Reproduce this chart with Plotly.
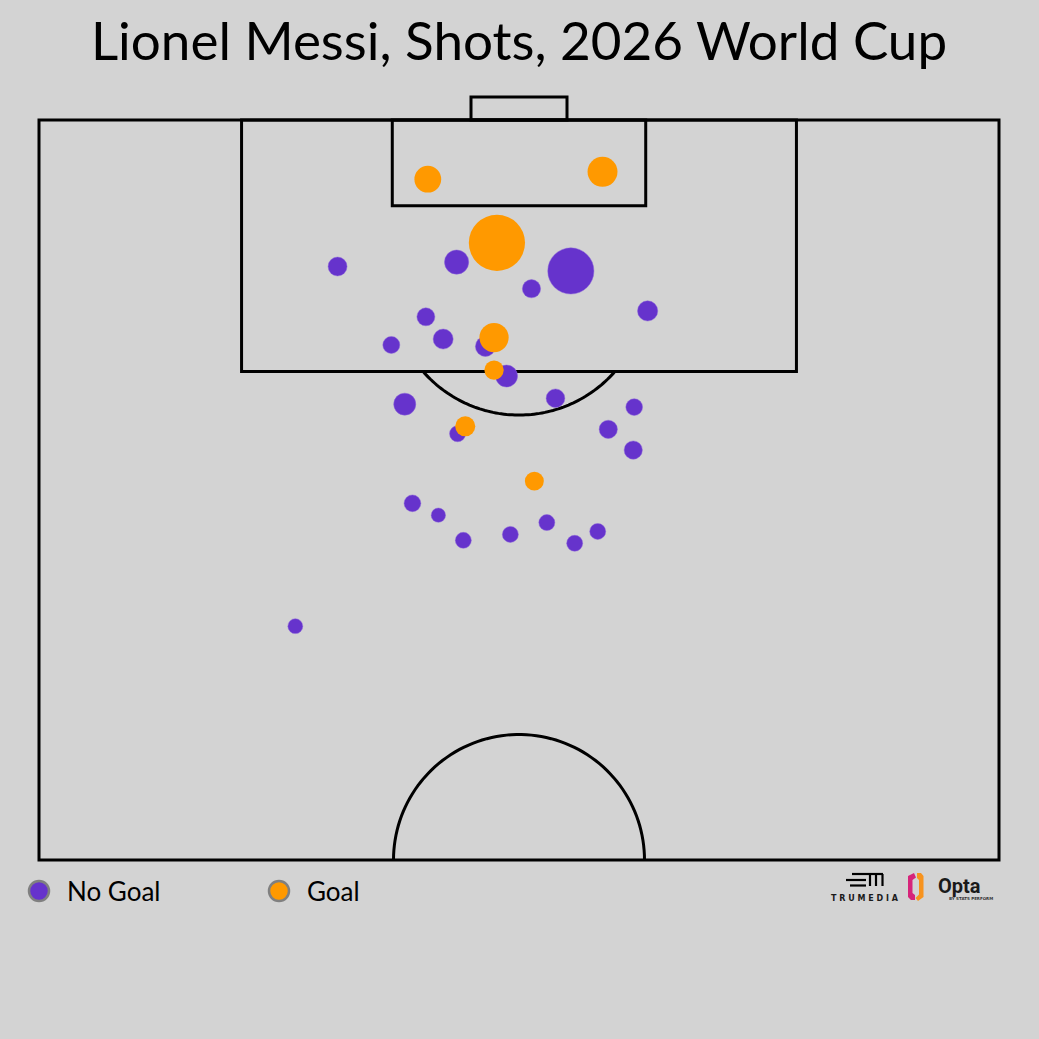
import numpy as np
import plotly.graph_objects as go

# ---------------- data (Opta-style pitch coords: x across 0-100, y toward goal 50-100) -------------
nogoal_x = [31.1, 43.5, 55.4, 51.3, 40.3, 63.4, 36.7, 42.1, 46.5, 48.7, 38.1, 53.8,
            62.0, 43.6, 59.3, 61.9, 38.9, 41.6, 44.2, 49.1, 52.9, 55.8, 58.2, 26.7]
nogoal_y = [90.1, 90.4, 89.8, 88.6, 86.7, 87.1, 84.8, 85.2, 84.7, 82.7, 80.8, 81.2,
            80.6, 78.8, 79.1, 77.7, 74.1, 73.3, 71.6, 72.0, 72.8, 71.4, 72.2, 65.8]
nogoal_xg = [0.042, 0.069, 0.25, 0.039, 0.038, 0.048, 0.034, 0.047, 0.047, 0.057, 0.057, 0.041,
             0.033, 0.030, 0.039, 0.039, 0.033, 0.024, 0.030, 0.030, 0.030, 0.030, 0.030, 0.026]

goal_x = [40.5, 58.7, 47.7, 47.4, 47.4, 44.4, 51.6]
goal_y = [96.0, 96.5, 91.7, 85.3, 83.1, 79.3, 75.6]
goal_xg = [0.084, 0.105, 0.37, 0.100, 0.044, 0.047, 0.042]

legend_labels = ["No Goal", "Goal"]
title_text = "Lionel Messi, Shots, 2026 World Cup"

# ---------------- styling / geometry ----------------
BG = "#D3D3D3"
PURPLE = "#6633CC"
ORANGE = "#FF9900"
W = H = 1039
ML, MR, MT, MB = 29, 30, 76, 165
PXX = 9.6    # px per x unit
PXY = 14.8   # px per y unit
X0PX, Y100PX = 39, 120
x_range = [(ML - X0PX) / PXX, (W - MR - X0PX) / PXX]
y_range = [100 - ((H - MB) - Y100PX) / PXY, 100 - (MT - Y100PX) / PXY]
SIZEREF = 2 * 0.03 / 16 ** 2

fig = go.Figure()
fig.add_trace(go.Scatter(x=nogoal_x, y=nogoal_y, mode="markers", name=legend_labels[0],
                         marker=dict(color=PURPLE, size=nogoal_xg, sizemode="area", sizeref=SIZEREF,
                                     opacity=1, line=dict(width=0.6, color="rgba(140,100,220,0.8)")),
                         showlegend=False, hoverinfo="skip"))
fig.add_trace(go.Scatter(x=goal_x, y=goal_y, mode="markers", name=legend_labels[1],
                         marker=dict(color=ORANGE, size=goal_xg, sizemode="area", sizeref=SIZEREF,
                                     opacity=1, line=dict(width=0)),
                         showlegend=False, hoverinfo="skip"))

LINE = dict(color="black", width=3)
shapes = []
def rect(x0, y0, x1, y1):
    shapes.append(dict(type="rect", x0=x0, y0=y0, x1=x1, y1=y1, xref="x", yref="y",
                       line=LINE, layer="below"))

rect(0, 50, 100, 100)
rect(21.1, 83, 78.9, 100)
rect(36.8, 94.2, 63.2, 100)
rect(45.0, 100, 55.0, 101.55)

def arc_path(cx, cy, r_px, t0, t1, n=80):
    t = np.linspace(t0, t1, n)
    xs = cx + r_px / PXX * np.cos(t)
    ys = cy + r_px / PXY * np.sin(t)
    return "M " + " L ".join(f"{a:.4f},{b:.4f}" for a, b in zip(xs, ys))

# penalty arc (outside box)
pc_y, pr = 88.68, 127.5
s = np.arcsin((83 - pc_y) / (pr / PXY))
shapes.append(dict(type="path", path=arc_path(50, pc_y, pr, np.pi - s, 2 * np.pi + s),
                   xref="x", yref="y", line=LINE, layer="below"))
# centre circle half
shapes.append(dict(type="path", path=arc_path(50, 50, 125.5, 0, np.pi),
                   xref="x", yref="y", line=LINE, layer="below"))

# ---------------- legend & logos in pixel space ----------------
def P(px, py):
    return ((px - ML) / (W - ML - MR), ((H - MB) - py) / (H - MT - MB))

annotations = []
for (cx, tx), col, lab in zip([(39, 65), (279, 305)], [PURPLE, ORANGE], legend_labels):
    ax, ay = P(cx, 891)
    shapes.append(dict(type="circle", xref="paper", yref="paper", xsizemode="pixel", ysizemode="pixel",
                       xanchor=ax, yanchor=ay, x0=-10, x1=10, y0=-10, y1=10,
                       fillcolor=col, line=dict(color="#808080", width=2.5)))
    tx_, ty_ = P(tx, 891)
    annotations.append(dict(text=lab, x=tx_, y=ty_, xref="paper", yref="paper", xanchor="left",
                            yanchor="middle", showarrow=False,
                            font=dict(family="Lato", size=26, color="black")))

def pline(x0, y0, x1, y1, w=2.2, col="black"):
    a, b = P(x0, y0)
    c, d = P(x1, y1)
    shapes.append(dict(type="line", xref="paper", yref="paper", x0=a, y0=b, x1=c, y1=d,
                       line=dict(color=col, width=w)))

# TruMedia icon
pline(852, 874, 883, 874)
pline(846, 880, 866, 880)
pline(850, 885.5, 866, 885.5)
pline(870, 874, 870, 886)
pline(876, 874, 876, 886)
pline(882.5, 874, 882.5, 886)
tmx, tmy = P(864.5, 898)
annotations.append(dict(text="<b>T R U M E D I A</b>", x=tmx, y=tmy, xref="paper", yref="paper",
                        xanchor="center", yanchor="middle", showarrow=False,
                        font=dict(family="DejaVu Sans", size=8, color="#1a1a1a")))

# Opta icon (two coloured halves)
def ppath(pts):
    return "M " + " L ".join(f"{P(a, b)[0]:.5f},{P(a, b)[1]:.5f}" for a, b in pts) + " Z"
shapes.append(dict(type="path", xref="paper", yref="paper",
                   path=ppath([(914, 873), (908, 876), (908, 897), (911, 900), (915, 900),
                               (915, 895), (912.5, 893), (912.5, 880), (916, 877.5)]),
                   fillcolor="#D6247A", line=dict(width=0)))
shapes.append(dict(type="path", xref="paper", yref="paper",
                   path=ppath([(917, 873), (921, 873), (923.5, 876), (923.5, 897), (918, 901),
                               (915.5, 898), (919, 894.5), (919, 880), (917, 878)]),
                   fillcolor="#F7931E", line=dict(width=0)))
ox, oy = P(936, 886)
annotations.append(dict(text="<b>Opta</b>", x=ox, y=oy, xref="paper", yref="paper",
                        xanchor="left", yanchor="middle", showarrow=False,
                        font=dict(family="Roboto", size=20, color="#1a1a1a")))
sx, sy = P(995, 898)
annotations.append(dict(text="<b>BY STATS PERFORM</b>", x=sx, y=sy, xref="paper", yref="paper",
                        xanchor="right", yanchor="middle", showarrow=False,
                        font=dict(family="DejaVu Sans", size=4, color="#333333")))

fig.update_layout(
    width=W, height=H,
    paper_bgcolor=BG, plot_bgcolor=BG,
    margin=dict(l=ML, r=MR, t=MT, b=MB, pad=0),
    title=dict(text=title_text, x=0.5, xanchor="center", xref="paper",
               y=1 - 41 / H, yref="container", yanchor="middle",
               font=dict(family="Lato", size=53, color="black")),
    xaxis=dict(range=x_range, visible=False, showgrid=False, zeroline=False, fixedrange=True),
    yaxis=dict(range=y_range, visible=False, showgrid=False, zeroline=False, fixedrange=True),
    shapes=shapes, annotations=annotations, showlegend=False,
)

fig.write_html("out.html")
